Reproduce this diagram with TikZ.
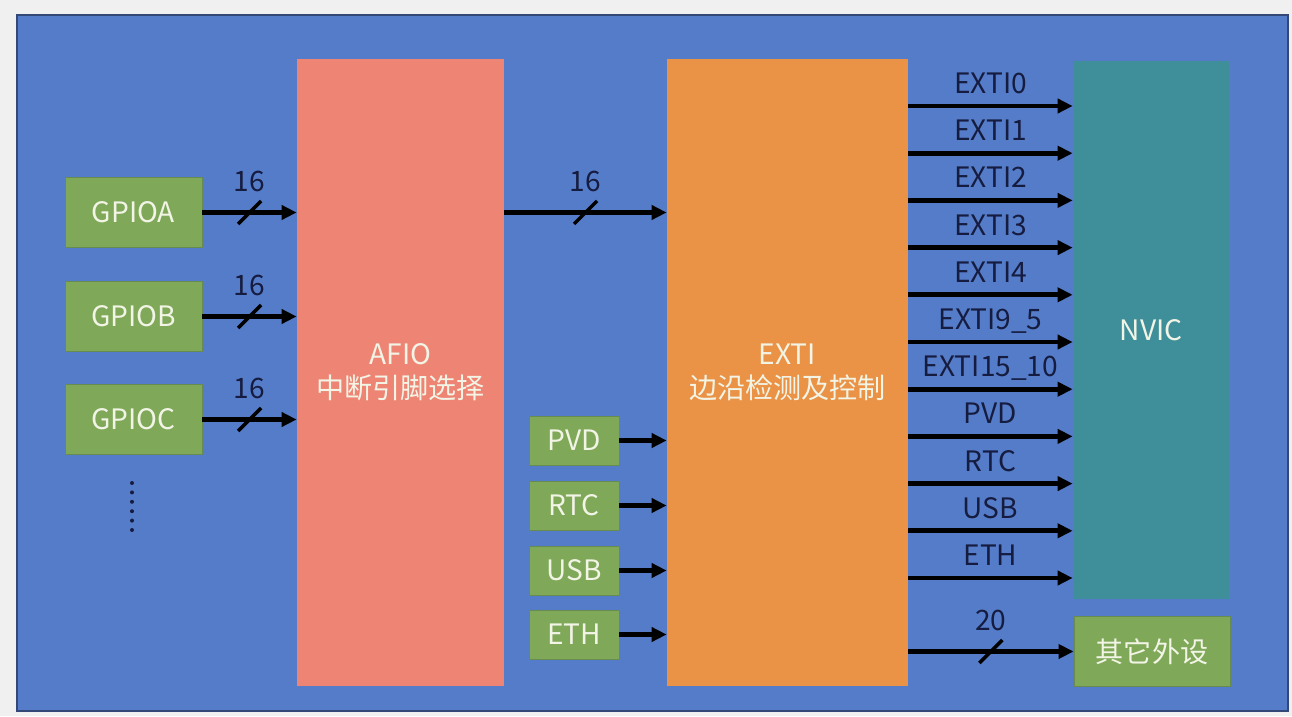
\documentclass[tikz,border=0pt]{standalone}
\usepackage{fontspec}
\setmainfont{Noto Sans CJK SC}
\usetikzlibrary{calc,arrows.meta}

\definecolor{pagegray}{RGB}{240,240,240}
\definecolor{panelblue}{RGB}{84,124,200}
\definecolor{paneledge}{RGB}{52,72,120}
\definecolor{gpiogreen}{RGB}{127,168,88}
\definecolor{greenedge}{RGB}{104,140,80}
\definecolor{afiored}{RGB}{238,133,116}
\definecolor{extiorange}{RGB}{234,146,69}
\definecolor{nvicteal}{RGB}{63,143,155}
\definecolor{boxtext}{RGB}{242,244,230}
\definecolor{labelnavy}{RGB}{22,28,64}

\tikzset{
  gpio/.style={draw=greenedge, line width=0.5pt, fill=gpiogreen, text=boxtext,
    minimum width=2.74cm, minimum height=1.40cm, inner sep=0pt,
    font=\fontsize{16pt}{19.5pt}\selectfont},
  srcbox/.style={gpio, minimum width=1.80cm, minimum height=0.98cm},
  bigblock/.style={draw=none, text=boxtext, minimum height=12.54cm, inner sep=0pt,
    align=center, font=\fontsize{16pt}{19.5pt}\selectfont},
  sig/.style={line width=2.8pt, draw=black, -{Triangle[length=0.3cm,width=0.28cm]}},
  slash/.style={line width=2pt, draw=black},
  lbl/.style={text=labelnavy, inner sep=0pt, text depth=0pt,
    font=\fontsize{16pt}{19.5pt}\selectfont}
}

% bus arrow with a slash and its width
\newcommand\busline[3]{%
  \draw[sig] (#1) -- (#2) coordinate[midway] (bm);
  \draw[slash] ($(bm)+(-0.23,-0.23)$) -- ($(bm)+(0.23,0.23)$);
  \node[lbl, above=0.18cm] at ($(bm)+(0,0.23)$) {#3};
}

\begin{document}
\begin{tikzpicture}
	%%%%% PANEL %%%%%
	\useasboundingbox[fill=pagegray] (0,0) rectangle (25.84,-14.32);
	\draw[fill=panelblue, draw=paneledge, line width=0.6pt] (0.34,-0.30) rectangle (25.76,-14.22);
	
	%%%%% BLOCKS %%%%%
	\node[gpio] (gpioa) at (2.67,-4.25) {GPIOA};
	\node[gpio] (gpiob) at (2.67,-6.33) {GPIOB};
	\node[gpio] (gpioc) at (2.67,-8.39) {GPIOC};
	
	\node[bigblock, fill=afiored, minimum width=4.14cm] (afio) at (8.01,-7.45) {AFIO\\中断引脚选择};
	\node[bigblock, fill=extiorange, minimum width=4.82cm] (exti) at (15.75,-7.45) {EXTI\\边沿检测及控制};
	\node[bigblock, fill=nvicteal, minimum width=3.12cm, minimum height=10.76cm] (nvic) at (23.02,-6.60) {NVIC};
	\node[gpio, minimum width=3.12cm] (other) at (23.04,-13.03) {其它外设};
	
	\node[srcbox] (pvd) at (11.48,-8.81) {PVD};
	\node[srcbox] (rtc) at (11.48,-10.11) {RTC};
	\node[srcbox] (usb) at (11.48,-11.41) {USB};
	\node[srcbox] (eth) at (11.48,-12.69) {ETH};
	
	% more ports
	\foreach \d in {0,...,5}
		\fill[labelnavy] (2.64,-9.66-0.188*\d) circle (0.04);
	
	%%%%% CONNECTORS %%%%%
	\busline{gpioa.east}{afio.west |- gpioa.east}{16}
	\busline{gpiob.east}{afio.west |- gpiob.east}{16}
	\busline{gpioc.east}{afio.west |- gpioc.east}{16}
	\busline{afio.east |- gpioa.east}{exti.west |- gpioa.east}{16}
	
	\draw[sig] (pvd.east) -- (exti.west |- pvd.east);
	\draw[sig] (rtc.east) -- (exti.west |- rtc.east);
	\draw[sig] (usb.east) -- (exti.west |- usb.east);
	\draw[sig] (eth.east) -- (exti.west |- eth.east);
	
	\foreach \lab [count=\i from 0] in {EXTI0,EXTI1,EXTI2,EXTI3,EXTI4,EXTI9\_5,EXTI15\_10,PVD,RTC,USB,ETH} {
		\coordinate (out\i) at (0,-2.12-0.944*\i);
		\draw[sig] (exti.east |- out\i) -- (nvic.west |- out\i) node[midway, lbl, above=0.2cm] {\lab};
	}
	
	\busline{exti.east |- other.west}{other.west}{20}
\end{tikzpicture}
\end{document}
